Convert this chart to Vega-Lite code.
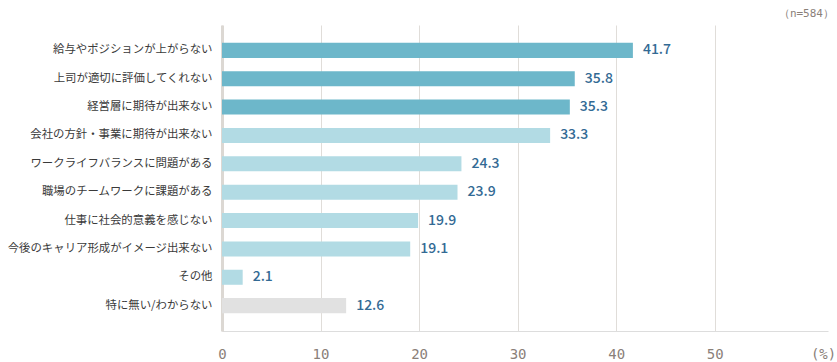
{
  "$schema": "https://vega.github.io/schema/vega-lite/v6.json",
  "width": 606,
  "height": 306,
  "autosize": {"type": "none"},
  "padding": {"left": 222, "top": 25, "right": 9, "bottom": 31},
  "background": "#ffffff",
  "title": {
    "text": "（n=584）",
    "anchor": "end",
    "frame": "group",
    "orient": "top",
    "offset": 6,
    "dx": 6,
    "font": "DejaVu Sans Mono",
    "fontSize": 11,
    "fontWeight": "normal",
    "color": "#8a8079"
  },
  "config": {
    "view": {"stroke": null},
    "font": "Noto Sans CJK JP"
  },
  "data": {
    "values": [
      {"item": "給与やポジションが上がらない", "value": 41.7, "group": "top"},
      {"item": "上司が適切に評価してくれない", "value": 35.8, "group": "top"},
      {"item": "経営層に期待が出来ない", "value": 35.3, "group": "top"},
      {"item": "会社の方針・事業に期待が出来ない", "value": 33.3, "group": "other"},
      {"item": "ワークライフバランスに問題がある", "value": 24.3, "group": "other"},
      {"item": "職場のチームワークに課題がある", "value": 23.9, "group": "other"},
      {"item": "仕事に社会的意義を感じない", "value": 19.9, "group": "other"},
      {"item": "今後のキャリア形成がイメージ出来ない", "value": 19.1, "group": "other"},
      {"item": "その他", "value": 2.1, "group": "other"},
      {"item": "特に無い/わからない", "value": 12.6, "group": "none"}
    ]
  },
  "encoding": {
    "y": {
      "field": "item",
      "type": "nominal",
      "sort": null,
      "title": null,
      "scale": {"paddingInner": 0.47, "paddingOuter": 0.63},
      "axis": {
        "ticks": false,
        "domain": true,
        "domainColor": "#dcd8d3",
        "domainWidth": 3,
        "labelPadding": 10,
        "labelFont": "Noto Sans CJK JP",
        "labelFontSize": 11.4,
        "labelColor": "#3a3a3a",
        "labelLimit": 300
      }
    },
    "x": {
      "field": "value",
      "type": "quantitative",
      "title": null,
      "scale": {"domain": [0, 61.5], "nice": false},
      "axis": {
        "values": [0, 10, 20, 30, 40, 50, 61],
        "labelExpr": "datum.value == 61 ? '(%)' : datum.label",
        "ticks": false,
        "domain": true,
        "domainColor": "#dddddd",
        "domainWidth": 1,
        "grid": true,
        "gridColor": {"condition": {"test": "datum.value == 61", "value": "transparent"}, "value": "#e0ddd9"},
        "gridWidth": 1,
        "labelPadding": 16,
        "labelFont": "DejaVu Sans Mono",
        "labelFontSize": 14,
        "labelColor": "#8a8079",
        "labelBound": false,
        "labelOverlap": false,
        "labelFlush": false
      }
    }
  },
  "layer": [
    {
      "mark": {"type": "bar"},
      "encoding": {
        "color": {
          "field": "group",
          "type": "nominal",
          "scale": {"domain": ["top", "other", "none"], "range": ["#6db7ca", "#b2dbe4", "#e1e1e1"]},
          "legend": null
        }
      }
    },
    {
      "mark": {"type": "text", "align": "left", "baseline": "middle", "dx": 10, "font": "Noto Sans CJK JP", "fontSize": 14, "fontWeight": 500, "color": "#336a94"},
      "encoding": {
        "text": {"field": "value", "type": "quantitative", "format": ".1f"}
      }
    }
  ]
}
